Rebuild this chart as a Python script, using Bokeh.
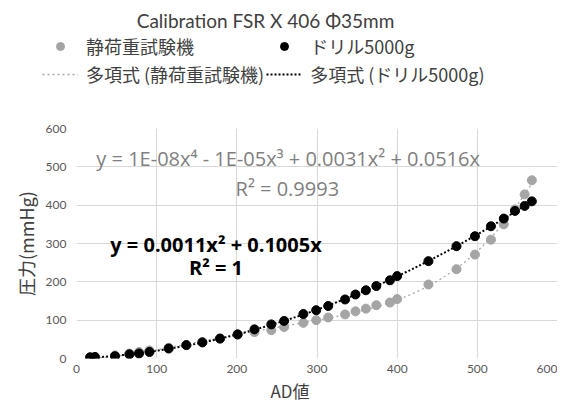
import numpy as np
from bokeh.plotting import figure
from bokeh.layouts import column
from bokeh.models import Legend, LegendItem, Label, Range1d, FixedTicker, Title
from bokeh.embed import file_html
from bokeh.resources import INLINE

# ---- data ----
ad_values = [17, 23, 48, 66, 78, 91, 115, 137, 157, 179, 201, 222, 243, 259, 283,
             299, 314, 335, 348, 361, 374, 391, 400, 439, 474, 497, 517, 533, 547, 559, 568]
static_load = [3, 4, 8, 13, 17, 21, 28, 35, 43, 52, 62, 69, 74, 82, 93,
               100, 107, 115, 123, 130, 139, 146, 155, 193, 233, 271, 310, 350, 389, 428, 465]
drill_5000g = [3, 4, 6, 11, 13, 17, 26, 35, 42, 52, 63, 76, 89, 98, 116,
               126, 137, 154, 167, 178, 189, 204, 215, 254, 293, 319, 345, 365, 385, 398, 410]

series_names = ["静荷重試験機", "ドリル5000g"]
trend_names = ["多項式 (静荷重試験機)", "多項式 (ドリル5000g)"]
title_text = "Calibration FSR X 406 Φ35mm"
x_title = "AD値"
y_title = "圧力(mmHg)"
eq_static = "y = 1E-08x⁴ - 1E-05x³ + 0.0031x² + 0.0516x"
r2_static = "R² = 0.9993"
eq_drill = "y = 0.0011x² + 0.1005x"
r2_drill = "R² = 1"
x_ticks = [0, 100, 200, 300, 400, 500, 600]
y_ticks = [0, 100, 200, 300, 400, 500, 600]

# ---- least-squares trend lines (no intercept) ----
x = np.array(ad_values, dtype=float)
ys = np.array(static_load, dtype=float)
yd = np.array(drill_5000g, dtype=float)
A4 = np.vstack([x**4, x**3, x**2, x]).T
c4 = np.linalg.lstsq(A4, ys, rcond=None)[0]
A2 = np.vstack([x**2, x]).T
c2 = np.linalg.lstsq(A2, yd, rcond=None)[0]
xt = np.linspace(x.min(), x.max(), 300)
yt_static = c4[0]*xt**4 + c4[1]*xt**3 + c4[2]*xt**2 + c4[3]*xt
yt_drill = c2[0]*xt**2 + c2[1]*xt

GRAY = "#a5a5a5"
TXT = "#404040"
TICK = "#595959"
CJK = "Noto Sans CJK JP"
LAT = "Lato"
EQF = "Open Sans"

# ---------------- header: title + legend ----------------
HW, HH = 557, 120
h = figure(width=HW, height=HH, output_backend="svg", toolbar_location=None,
           x_range=Range1d(-HW, 0), y_range=Range1d(0, HH), min_border=0,
           x_axis_location=None, y_axis_location=None)
h.title = None
h.outline_line_color = None
h.grid.visible = False

# ---------------- main chart ----------------
p = figure(width=557, height=284, output_backend="svg", toolbar_location=None,
           x_range=Range1d(0, 600), y_range=Range1d(0, 600),
           min_border_left=76, min_border_right=0, min_border_top=8, min_border_bottom=46)
p.title = None

try:
    h.frame_align = False
    p.frame_align = False
    unaligned = True
except Exception:
    unaligned = False
legend_x = 42 if unaligned else 0
title_x = 265 if unaligned else 189

# legend sample renderers (data lies outside the header's view; only the legend shows them)
lg_s = h.scatter(ad_values, static_load, size=7, color=GRAY)
lg_ts = h.line(ad_values, static_load, line_color=GRAY, line_width=1.3, line_dash="2 3")
lg_d = h.scatter(ad_values, drill_5000g, size=7, color="black")
lg_td = h.line(ad_values, drill_5000g, line_color="black", line_width=2, line_dash="2 2")
legend = Legend(items=[
    LegendItem(label=series_names[0], renderers=[lg_s]),
    LegendItem(label=trend_names[0], renderers=[lg_ts]),
    LegendItem(label=series_names[1], renderers=[lg_d]),
    LegendItem(label=trend_names[1], renderers=[lg_td]),
], ncols=2, location=(legend_x, 33), padding=0, margin=0, spacing=2,
    glyph_width=36, glyph_height=20, label_height=20, label_standoff=8,
    label_text_font=CJK, label_text_font_size="18px", label_text_color=TXT,
    background_fill_alpha=0, border_line_color=None)
h.add_layout(legend, "center")
h.add_layout(Label(x=title_x, y=100, x_units="screen", y_units="screen", text=title_text,
                   text_align="center", text_baseline="middle", text_font=LAT,
                   text_font_size="19px", text_color=TXT))

p.outline_line_color = None
p.background_fill_color = "white"
p.border_fill_color = "white"

for ax in (p.xaxis[0], p.yaxis[0]):
    ax.axis_line_color = None
    ax.major_tick_line_color = None
    ax.minor_tick_line_color = None
    ax.major_tick_out = 0
    ax.major_tick_in = 0
    ax.minor_tick_out = 0
    ax.minor_tick_in = 0
    ax.major_label_text_font = LAT
    ax.major_label_text_font_size = "12px"
    ax.major_label_text_color = TICK
p.xaxis.ticker = FixedTicker(ticks=x_ticks)
p.yaxis.ticker = FixedTicker(ticks=y_ticks)
p.xaxis.major_label_standoff = 6
p.yaxis.major_label_standoff = 10
p.yaxis.axis_label = y_title
p.yaxis.axis_label_text_font = CJK
p.yaxis.axis_label_text_font_size = "18px"
p.yaxis.axis_label_text_font_style = "normal"
p.yaxis.axis_label_text_color = TXT
p.yaxis.axis_label_standoff = 4
p.grid.grid_line_color = "#d9d9d9"
p.grid.grid_line_width = 1

p.line(xt, yt_static, line_color=GRAY, line_width=1.3, line_dash="2 3")
p.line(xt, yt_drill, line_color="black", line_width=2, line_dash="2 2")
p.scatter(ad_values, static_load, size=9, color=GRAY)
p.scatter(ad_values, drill_5000g, size=9, color="black")

p.add_layout(Title(text=x_title, align="left", offset=194, text_font=CJK,
                   text_font_size="17px", text_font_style="normal", text_color=TXT,
                   standoff=0), "below")

p.add_layout(Label(x=264, y=522, text=eq_static, text_align="center", text_baseline="middle",
                   text_font=EQF, text_font_size="20px", text_color="#7f7f7f"))
p.add_layout(Label(x=263, y=444, text=r2_static, text_align="center", text_baseline="middle",
                   text_font=EQF, text_font_size="20px", text_color="#7f7f7f"))
p.add_layout(Label(x=174, y=298, text=eq_drill, text_align="center", text_baseline="middle",
                   text_font=EQF, text_font_size="20px", text_font_style="bold", text_color="black"))
p.add_layout(Label(x=174, y=238, text=r2_drill, text_align="center", text_baseline="middle",
                   text_font=EQF, text_font_size="20px", text_font_style="bold", text_color="black"))

layout = column(h, p, spacing=0)
open("out.html", "w").write(file_html(layout, INLINE))
